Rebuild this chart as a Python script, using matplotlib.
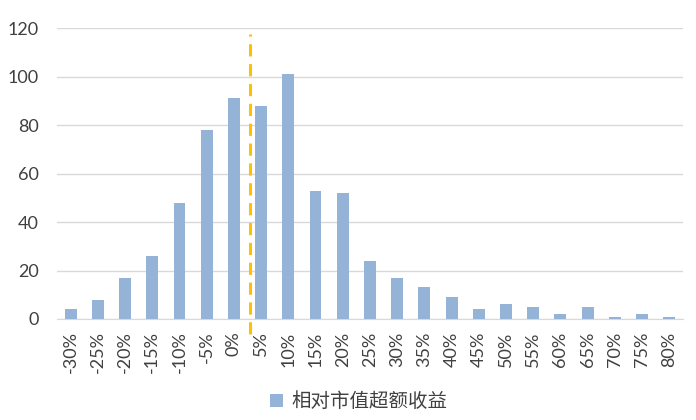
import matplotlib
matplotlib.use('Agg')
import matplotlib.pyplot as plt
import numpy as np

# 相对市值超额收益分布
categorias = ['-30%', '-25%', '-20%', '-15%', '-10%', '-5%', '0%', '5%', '10%', '15%', '20%', '25%',
              '30%', '35%', '40%', '45%', '50%', '55%', '60%', '65%', '70%', '75%', '80%']
contagem = [4, 8, 17, 26, 48, 78, 91, 88, 101, 53, 52, 24, 17, 13, 9, 4, 6, 5, 2, 5, 1, 2, 1]
posicao_linha = 6.58  # entre 0% e 5%

plt.rcParams['font.family'] = ['Lato', 'Noto Sans CJK SC', 'DejaVu Sans']

fig = plt.figure(figsize=(6.96, 4.2), dpi=100)
ax = fig.add_axes([0.082, 0.2405, 0.899, 0.6925])

x = np.arange(len(categorias))
ax.bar(x, contagem, width=0.44, color='#95b3d7', label='相对市值超额收益', zorder=3)

ax.plot([posicao_linha, posicao_linha], [-6, 117.5], color='#ffc000', lw=2.2,
        dashes=(4, 2.5), clip_on=False, zorder=4)

ax.set_xlim(-0.5, len(categorias) - 0.5)
ax.set_ylim(0, 120)
ax.set_yticks(range(0, 121, 20))
ax.set_xticks(x)
ax.set_xticklabels(categorias, rotation=90)
ax.tick_params(axis='x', length=0, pad=9, labelsize=13, labelcolor='#404040')
ax.tick_params(axis='y', length=0, pad=13, labelsize=13, labelcolor='#404040')
ax.grid(axis='y', color='#d9d9d9', lw=1, zorder=0)
for lado in ['top', 'right', 'left']:
    ax.spines[lado].set_visible(False)
ax.spines['bottom'].set_color('#d9d9d9')

fig.legend(loc='center', bbox_to_anchor=(0.515, 0.045), frameon=False, fontsize=14,
           handlelength=0.7, handleheight=0.7, handletextpad=0.4, labelcolor='#404040')

fig.savefig('out.png', dpi=100)
